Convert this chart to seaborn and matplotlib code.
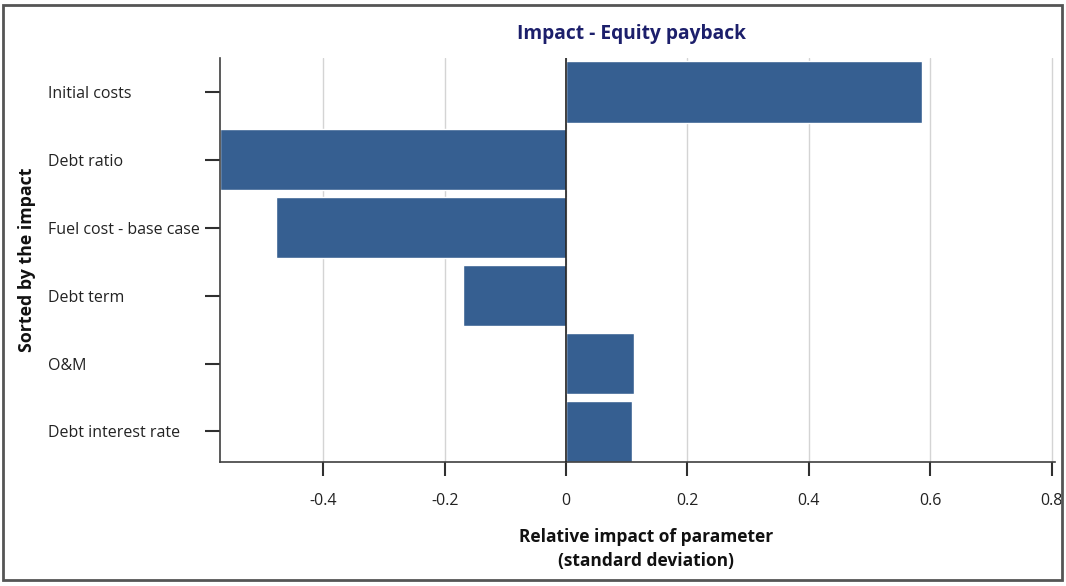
import pandas as pd
import matplotlib.pyplot as plt
import seaborn as sns
from matplotlib.patches import Rectangle
from matplotlib.ticker import FuncFormatter

# parameters, sorted by the impact
params = ['Initial costs', 'Debt ratio', 'Fuel cost - base case',
          'Debt term', 'O&M', 'Debt interest rate']
impact = [0.586, -0.57, -0.477, -0.17, 0.112, 0.109]

x_ticks = [-0.4, -0.2, 0, 0.2, 0.4, 0.6, 0.8]

sns.set_style("white")
plt.rcParams['font.family'] = ['Open Sans', 'DejaVu Sans']

df = pd.DataFrame({'param': params, 'impact': impact})

fig = plt.figure(figsize=(10.66, 5.86), dpi=100)
ax = fig.add_axes([0.2064, 0.2116, 0.783, 0.6894])

sns.barplot(data=df, x='impact', y='param', orient='h', color='#365f91',
            saturation=1, width=0.9, ax=ax)

ax.set_xlim(-0.57, 0.805)
ax.set_ylim(5.45, -0.5)
ax.set_xticks(x_ticks)
ax.xaxis.set_major_formatter(FuncFormatter(lambda v, p: '0' if abs(v) < 1e-9 else f'{v:g}'))
ax.grid(axis='x', color='#d4d4d4', linewidth=1)
ax.set_axisbelow(True)
ax.axvline(0, color='#202020', linewidth=1.2, zorder=3)

for s in ['top', 'right']:
    ax.spines[s].set_visible(False)
for s in ['left', 'bottom']:
    ax.spines[s].set_color('#404040')
    ax.spines[s].set_linewidth(1.2)

ax.tick_params(axis='x', bottom=True, direction='out', length=10, width=1.5,
               color='#303030', labelsize=11.5, labelcolor='#222222', pad=12)
ax.tick_params(axis='y', left=True, direction='out', length=11, width=1.5,
               color='#303030', labelsize=11.5, labelcolor='#222222', pad=113)
for lbl in ax.get_yticklabels():
    lbl.set_horizontalalignment('left')

ax.set_title('Impact - Equity payback', fontsize=13.8, fontweight='bold',
             color='#1c1f6b', pad=14, x=0.493)
ax.set_xlabel('Relative impact of parameter\n(standard deviation)', fontsize=12.5,
              fontweight='bold', color='#111111', labelpad=14, linespacing=1.45)
ax.xaxis.label.set_x(0.51)
ax.set_ylabel('Sorted by the impact', fontsize=12.8, fontweight='bold',
              color='#111111')
ax.yaxis.set_label_coords(-0.221, 0.5)

fig.patches.append(Rectangle((0.003, 0.01), 0.993, 0.982, transform=fig.transFigure,
                             fill=False, edgecolor='#555555', linewidth=2))

fig.savefig('out.png', dpi=100)
